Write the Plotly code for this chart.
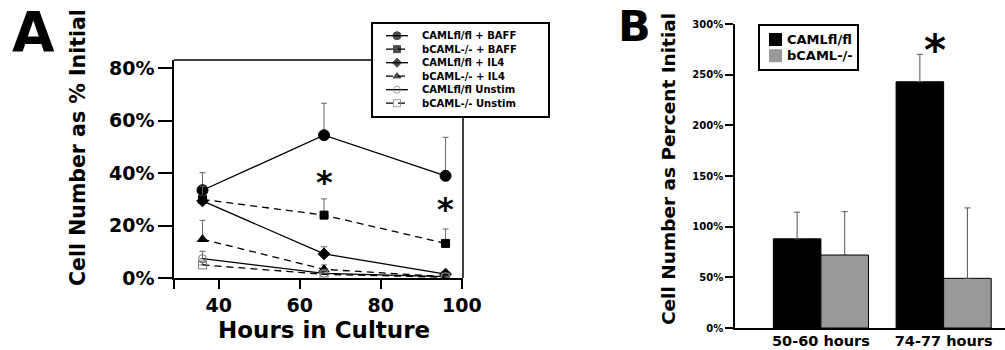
import plotly.graph_objects as go

# ---------------- Panel A data ----------------
hours = [36, 66, 96]
series_names = ["CAMLfl/fl + BAFF", "bCAML-/- + BAFF", "CAMLfl/fl + IL4",
                "bCAML-/- + IL4", "CAMLfl/fl Unstim", "bCAML-/- Unstim"]
fl_baff = [33.5, 54.5, 39.0]
ko_baff = [30.0, 24.0, 13.2]
fl_il4 = [29.4, 9.2, 1.5]
ko_il4 = [14.8, 3.3, 0.5]
fl_unstim = [7.4, 1.8, 0.5]
ko_unstim = [5.0, 1.4, 0.3]
fl_baff_err = [6.7, 12.2, 14.7]
ko_baff_err = [5.0, 6.2, 5.5]
fl_il4_err = [2.0, 2.7, 0.8]
ko_il4_err = [7.2, 1.7, 0.4]
fl_unstim_err = [2.8, 0.5, 0.2]
ko_unstim_err = [1.0, 0.3, 0.1]
star_a_x = [66, 96]
star_a_y = [39.0, 28.6]
a_yticks = [0, 20, 40, 60, 80]
a_xticks = [28.96, 40, 60, 80, 100]
a_xticklabels = ["", "40", "60", "80", "100"]

# ---------------- Panel B data ----------------
periods = ["50-60 hours", "74-77 hours"]
b_names = ["CAMLfl/fl", "bCAML-/-"]
b_fl = [88, 243]
b_ko = [72, 49]
b_fl_err = [26.3, 27.0]
b_ko_err = [42.8, 69.5]
star_b_x = ["74-77 hours"]
star_b_y = [282]
b_yticks = [0, 50, 100, 150, 200, 250, 300]

W, H = 1005, 350
FONT = "DejaVu Sans"


def bold(size):
    return dict(size=size, family=FONT, weight="bold", color="black")


fig = go.Figure()

a_values = [fl_baff, ko_baff, fl_il4, ko_il4, fl_unstim, ko_unstim]
a_errs = [fl_baff_err, ko_baff_err, fl_il4_err, ko_il4_err, fl_unstim_err, ko_unstim_err]
a_styles = [
    dict(dash="solid", symbol="circle", size=11, lsize=8, mcolor="black"),
    dict(dash="7px,5px", symbol="square", size=8, lsize=7, mcolor="black"),
    dict(dash="solid", symbol="diamond", size=9, lsize=7, mcolor="black"),
    dict(dash="7px,5px", symbol="triangle-up", size=9, lsize=7, mcolor="black"),
    dict(dash="solid", symbol="circle-open", size=8, lsize=7, mcolor="#777777"),
    dict(dash="7px,5px", symbol="square-open", size=8, lsize=7, mcolor="#777777"),
]
for name, vals, errs, st in zip(series_names, a_values, a_errs, a_styles):
    fig.add_trace(go.Scatter(
        x=hours, y=vals, name=name, mode="lines+markers", showlegend=False,
        line=dict(color="black", width=1.3, dash=st["dash"]),
        marker=dict(symbol=st["symbol"], size=st["size"], color=st["mcolor"],
                    line=dict(color=st["mcolor"], width=1)),
        error_y=dict(type="data", array=errs, arrayminus=[0] * len(errs),
                     symmetric=False, color="#666666", thickness=1, width=3),
        xaxis="x", yaxis="y",
    ))

annotations = []

# ---- compact legend for panel A (its own small axes form the legend box) ----
LEG_W, LEG_H = 175, 92
ROW0, ROW_STEP = 11.7, 13.5
for i, (name, st) in enumerate(zip(series_names, a_styles)):
    ry = ROW0 + ROW_STEP * i
    fig.add_trace(go.Scatter(
        x=[13, 24, 35], y=[ry, ry, ry], mode="lines+markers", showlegend=False,
        hoverinfo="skip", name=name,
        line=dict(color="black", width=1.3, dash=st["dash"]),
        marker=dict(symbol=st["symbol"], size=[0, st["lsize"], 0], color=st["mcolor"],
                    line=dict(color=st["mcolor"], width=1)),
        xaxis="x3", yaxis="y3",
    ))
    annotations.append(dict(x=47, y=ry, xref="x3", yref="y3", text=name, showarrow=False,
                            xanchor="left", yanchor="middle", font=bold(10)))

# ---------------- Panel B bars ----------------
b_colors = ["black", "#999999"]
for name, vals, errs, col in zip(b_names, [b_fl, b_ko], [b_fl_err, b_ko_err], b_colors):
    fig.add_trace(go.Bar(
        x=periods, y=vals, name=name, showlegend=False,
        marker=dict(color=col, line=dict(color="black", width=1)),
        error_y=dict(type="data", array=errs, arrayminus=[0] * len(errs),
                     symmetric=False, color="#555555", thickness=1, width=3),
        xaxis="x2", yaxis="y2",
    ))

# ---- compact legend for panel B ----
LEGB_W, LEGB_H = 97, 43
ROWB0, ROWB_STEP = 13.5, 16.2
for i, (name, col) in enumerate(zip(b_names, b_colors)):
    ry = ROWB0 + ROWB_STEP * i
    fig.add_trace(go.Scatter(
        x=[15.5], y=[ry], mode="markers", showlegend=False, hoverinfo="skip", name=name,
        marker=dict(symbol="square", size=13, color=col, line=dict(color=col, width=0)),
        xaxis="x4", yaxis="y4",
    ))
    annotations.append(dict(x=25, y=ry, xref="x4", yref="y4", text=name, showarrow=False,
                            xanchor="left", yanchor="middle", font=bold(13)))

for sx, sy in zip(star_a_x, star_a_y):
    annotations.append(dict(x=sx, y=sy, xref="x", yref="y", text="*", showarrow=False,
                            font=bold(32), xanchor="center", yanchor="middle", yshift=-6))
for sx, sy in zip(star_b_x, star_b_y):
    annotations.append(dict(x=sx, y=sy, xref="x2", yref="y2", text="*", showarrow=False,
                            font=bold(42), xanchor="center", yanchor="middle",
                            yshift=-8, xshift=-9))

annotations += [
    dict(x=33 / W, y=1 - 32 / H, xref="paper", yref="paper", text="A", showarrow=False,
         font=bold(55), xanchor="center", yanchor="middle"),
    dict(x=634 / W, y=1 - 26 / H, xref="paper", yref="paper", text="B", showarrow=False,
         font=bold(43), xanchor="center", yanchor="middle"),
    dict(x=78 / W, y=1 - 148 / H, xref="paper", yref="paper", text="Cell Number as % Initial",
         textangle=-90, showarrow=False, font=bold(20.5), xanchor="center", yanchor="middle"),
    dict(x=324 / W, y=1 - 330 / H, xref="paper", yref="paper", text="Hours in Culture",
         showarrow=False, font=bold(23), xanchor="center", yanchor="middle"),
    dict(x=668 / W, y=1 - 169 / H, xref="paper", yref="paper",
         text="Cell Number as Percent Initial", textangle=-90, showarrow=False,
         font=bold(18.5), xanchor="center", yanchor="middle"),
]

# frame of panel A (top and right sides, interrupted by the legend box)
shapes = [
    dict(type="line", xref="x domain", yref="y domain", x0=0, x1=(373 - 174) / 289,
         y0=1, y1=1, line=dict(color="black", width=1.5)),
    dict(type="line", xref="x domain", yref="y domain", x0=1, x1=1,
         y0=0, y1=(278 - 116) / 218, line=dict(color="black", width=1.5)),
]

axis_common = dict(showgrid=False, zeroline=False, showline=True, linecolor="black",
                   linewidth=1.5, tickcolor="black", tickwidth=1.5)
box_axis = dict(showgrid=False, zeroline=False, showticklabels=False, ticks="",
                showline=True, mirror=True, linecolor="black", linewidth=1.5,
                fixedrange=True)

fig.update_layout(
    width=W, height=H, margin=dict(l=0, r=0, t=0, b=0, autoexpand=False),
    paper_bgcolor="white", plot_bgcolor="white",
    font=dict(family=FONT, weight="bold", color="black"),
    showlegend=False,
    barmode="group", bargap=0.225, bargroupgap=0,
    xaxis=dict(domain=[174 / W, 463 / W], range=[28.96, 100.3], anchor="y",
               tickvals=a_xticks, ticktext=a_xticklabels,
               ticks="outside", ticklen=9, tickfont=bold(19), **axis_common),
    yaxis=dict(domain=[72 / H, 290 / H], range=[0, 83.2], anchor="x",
               tickvals=a_yticks, ticktext=[f"{v}%" for v in a_yticks],
               ticks="outside", ticklen=14, tickfont=bold(19), **axis_common),
    xaxis2=dict(domain=[735 / W, 1.0], range=[-0.70, 1.50], anchor="y2", type="category",
                ticks="", tickfont=bold(14.5), ticklabelstandoff=-1, **axis_common),
    yaxis2=dict(domain=[22 / H, 326 / H], range=[0, 300], anchor="x2",
                tickvals=b_yticks, ticktext=[f"{v}%" for v in b_yticks],
                ticks="outside", ticklen=8, tickfont=bold(10), **axis_common),
    xaxis3=dict(domain=[373 / W, 548 / W], range=[0, LEG_W], anchor="y3", **box_axis),
    yaxis3=dict(domain=[1 - 116 / H, 1 - 24 / H], range=[LEG_H, 0], anchor="x3", **box_axis),
    xaxis4=dict(domain=[760 / W, 857 / W], range=[0, LEGB_W], anchor="y4", **box_axis),
    yaxis4=dict(domain=[1 - 69 / H, 1 - 26 / H], range=[LEGB_H, 0], anchor="x4", **box_axis),
    annotations=annotations,
    shapes=shapes,
)

fig.write_html("out.html", config={"displayModeBar": False},
               post_script="document.body.style.margin='0';document.body.style.overflow='hidden';")
